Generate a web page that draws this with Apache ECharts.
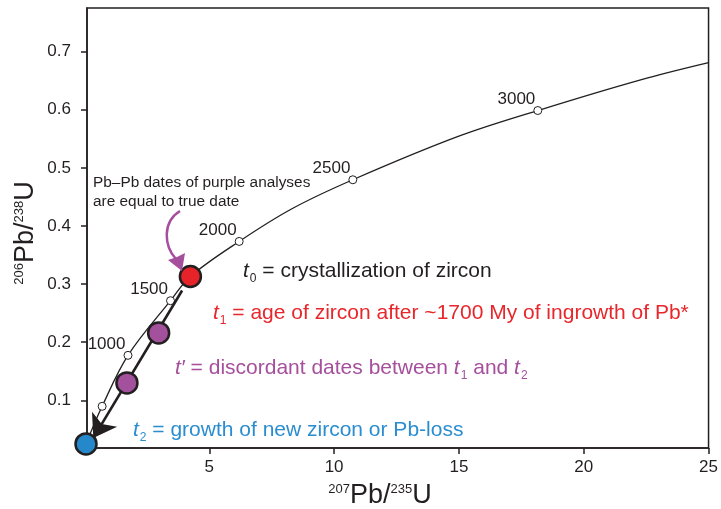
<!DOCTYPE html>
<html><head><meta charset="utf-8">
<script src="https://cdn.jsdelivr.net/npm/echarts@6/dist/echarts.min.js"></script>
<style>html,body{margin:0;padding:0;background:#fff}#c{width:721px;height:509px}</style>
</head><body><div id="c"></div>
<script>
// ---- data ----
const concordiaX = [0.06, 0.706, 1.742, 3.445, 4.242, 6.196, 8.31, 10.75, 14.97, 18.16, 22.28, 25.0];
const concordiaY = [0.025, 0.0897, 0.1774, 0.2714, 0.3132, 0.3734, 0.4296, 0.4795, 0.554, 0.5986, 0.6514, 0.681];
const ageX = [0.706, 1.742, 3.445, 6.196, 10.75, 18.16];
const ageY = [0.0897, 0.1774, 0.2714, 0.3734, 0.4795, 0.5986];
const ageLabels = ['', '1000', '1500', '2000', '2500', '3000'];
const analysisNames = ['t1', "t'", "t'", 't2'];
const analysisX = [4.242, 2.97, 1.70, 0.06];
const analysisY = [0.313, 0.216, 0.130, 0.025];
const discordiaX = [3.91, 0.35];
const discordiaY = [0.289, 0.035];
const xTicks = [5, 10, 15, 20, 25];
const yTicks = [0.1, 0.2, 0.3, 0.4, 0.5, 0.6, 0.7];

// ---- styles ----
const FONT = "'Liberation Sans', Arial, Helvetica, sans-serif";
const INK = '#231f20';
const RED = '#e8262b', PURPLE = '#a54f9d', BLUE = '#2a8dd0';
const dotColors = { 't1': '#e52329', "t'": '#a3509d', 't2': '#2588cb' };

const chart = echarts.init(document.getElementById('c'), null, { renderer: 'canvas' });

function tickFmt(list, digits) {
  return function (v) {
    const t = list.find(t => Math.abs(t - v) < 1e-6);
    return t == null ? '' : t.toFixed(digits);
  };
}

const big = 21, subSize = 12;
function lineRich(color) {
  return {
    it: { fontStyle: 'italic', fontSize: big, fill: color, fontFamily: FONT },
    s: { fontSize: subSize, fill: color, fontFamily: FONT, padding: [16, 0, 0, 1] },
    n: { fontSize: big, fill: color, fontFamily: FONT }
  };
}
function txt(x, y, text, color) {
  return { type: 'text', x: x, y: y, z: 50, style: { text: text, rich: lineRich(color), fill: color, font: big + 'px ' + FONT, align: 'left', verticalAlign: 'middle' } };
}
const nameRich = {
  b: { fontSize: 27, fill: INK, fontFamily: FONT },
  sup: { fontSize: 13, fill: INK, fontFamily: FONT, padding: [0, 0, 14, 0] }
};

const option = {
  animation: false,
  backgroundColor: '#fff',
  textStyle: { fontFamily: FONT },
  grid: { left: 87, right: 9, top: 8, bottom: 61, show: true, borderColor: INK, borderWidth: 1.5 },
  xAxis: {
    type: 'value', min: 0.1, max: 25, minInterval: 5, maxInterval: 5,
    splitLine: { show: false },
    axisLine: { onZero: false, lineStyle: { color: INK, width: 1.5 } },
    axisTick: { length: 6, lineStyle: { color: INK, width: 1.5 } },
    axisLabel: { showMinLabel: false, showMaxLabel: true, color: INK, fontSize: 17, margin: 11, fontFamily: FONT, formatter: tickFmt(xTicks, 0) }
  },
  yAxis: {
    type: 'value', min: 0.018, max: 0.775, minInterval: 0.1, maxInterval: 0.1,
    splitLine: { show: false },
    axisLine: { onZero: false, lineStyle: { color: INK, width: 1.5 } },
    axisTick: { length: 6, lineStyle: { color: INK, width: 1.5 } },
    axisLabel: { showMinLabel: false, showMaxLabel: false, color: INK, fontSize: 17, margin: 16, fontFamily: FONT, formatter: tickFmt(yTicks, 1) }
  },
  series: [
    {
      type: 'line', name: 'concordia', z: 2, clip: false,
      data: concordiaX.map((x, i) => [x, concordiaY[i]]),
      smooth: 0.35, showSymbol: false, symbol: 'none',
      lineStyle: { color: INK, width: 1.3 }
    },
    {
      type: 'scatter', name: 'ages', z: 3, clip: false,
      data: ageX.map((x, i) => [x, ageY[i]]),
      symbol: 'circle', symbolSize: 8,
      itemStyle: { color: '#fff', borderColor: INK, borderWidth: 1, opacity: 1 },
      label: {
        show: true, position: [2, -7], align: 'right', verticalAlign: 'middle',
        fontSize: 17, color: INK, fontFamily: FONT,
        formatter: p => ageLabels[p.dataIndex]
      }
    },
    {
      type: 'lines', name: 'discordia', coordinateSystem: 'cartesian2d', z: 4,
      data: [{ coords: [[discordiaX[0], discordiaY[0]], [discordiaX[1], discordiaY[1]]] }],
      symbol: ['none', 'arrow'], symbolSize: [15, 22],
      lineStyle: { color: INK, width: 2.6, opacity: 1 }
    },
    {
      type: 'scatter', name: 'analyses', z: 5, clip: false,
      data: analysisX.map((x, i) => ({ value: [x, analysisY[i]], itemStyle: { color: dotColors[analysisNames[i]] } })),
      symbol: 'circle', symbolSize: 21,
      itemStyle: { borderColor: INK, borderWidth: 2.5, opacity: 1 }
    }
  ],
  graphic: [
    { type: 'text', x: 380, y: 496, z: 50, style: { text: '{sup|207}{b|Pb/}{sup|235}{b|U}', rich: nameRich, align: 'center', verticalAlign: 'middle', fill: INK } },
    { type: 'text', x: 26, y: 233, rotation: Math.PI / 2, z: 50, style: { text: '{sup|206}{b|Pb/}{sup|238}{b|U}', rich: nameRich, align: 'center', verticalAlign: 'middle', fill: INK } },
    { type: 'text', x: 93, y: 192, z: 50, style: { text: 'Pb\u2013Pb dates of purple analyses\nare equal to true date', fill: INK, font: '15.4px ' + FONT, lineHeight: 19, align: 'left', verticalAlign: 'middle' } },
    txt(243, 271, '{it|t}{s|0}{n| = crystallization of zircon}', INK),
    txt(213, 313, '{it|t}{s|1}{n| = age of zircon after ~1700 My of ingrowth of Pb*}', RED),
    txt(175, 368, '{it|t\u2032}{n| = discordant dates between }{it|t}{s|1}{n| and }{it|t}{s|2}', PURPLE),
    txt(133, 430, '{it|t}{s|2}{n| = growth of new zircon or Pb-loss}', BLUE),
    { type: 'bezierCurve', z: 40, shape: { x1: 180, y1: 211, cpx1: 162, cpy1: 222, cpx2: 164, cpy2: 246, x2: 176, y2: 259 }, style: { stroke: PURPLE, lineWidth: 2.5, fill: null } },
    { type: 'polygon', z: 40, shape: { points: [[182, 271], [168, 260], [177, 257], [185, 253]] }, style: { fill: PURPLE } }
  ]
};
chart.setOption(option);
</script>
</body></html>
